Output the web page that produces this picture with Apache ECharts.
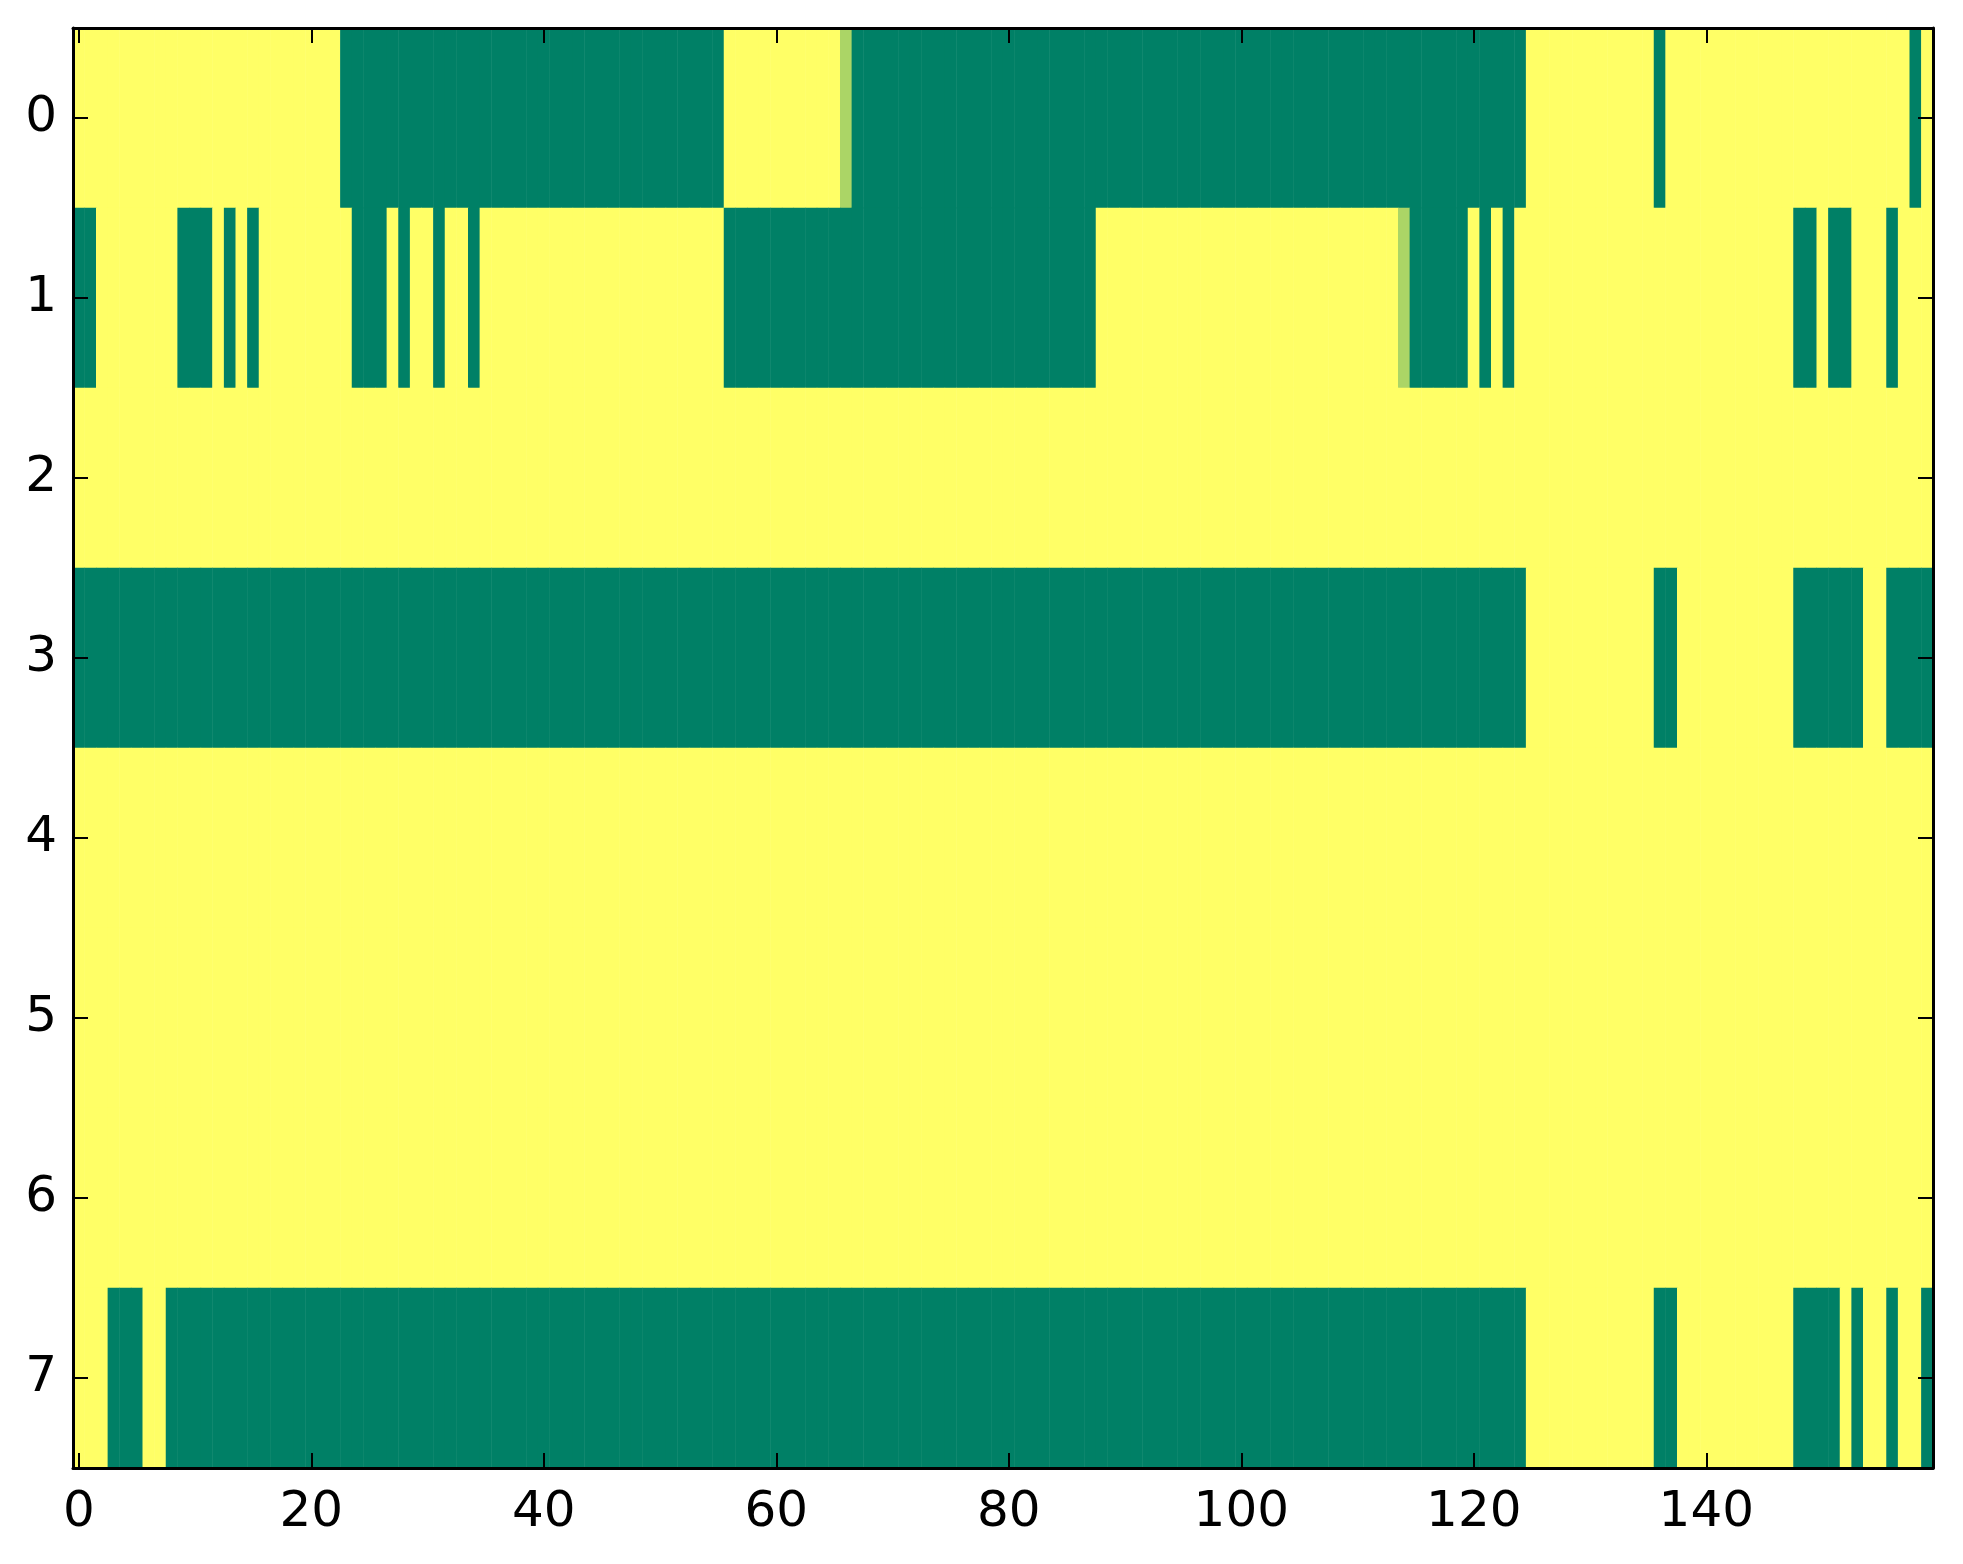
<!DOCTYPE html>
<html lang="en">
<head>
    <meta charset="UTF-8">
    <title>heatmap</title>
    <script src="https://cdn.jsdelivr.net/npm/echarts@6/dist/echarts.min.js"></script>
    <style>
        html, body { margin: 0; padding: 0; background: #fff; }
        #chart { width: 1963px; height: 1564px; }
    </style>
</head>
<body>
<div id="chart"></div>
<script>
    // 每行的值 (0 = 绿, 1 = 黄)
    var row0 = [
        1,1,1,1,1,1,1,1,1,1,1,1,1,1,1,1,1,1,1,1,
        1,1,1,0,0,0,0,0,0,0,0,0,0,0,0,0,0,0,0,0,
        0,0,0,0,0,0,0,0,0,0,0,0,0,0,0,0,1,1,1,1,
        1,1,1,1,1,1,0.67,0,0,0,0,0,0,0,0,0,0,0,0,0,
        0,0,0,0,0,0,0,0,0,0,0,0,0,0,0,0,0,0,0,0,
        0,0,0,0,0,0,0,0,0,0,0,0,0,0,0,0,0,0,0,0,
        0,0,0,0,0,1,1,1,1,1,1,1,1,1,1,1,0,1,1,1,
        1,1,1,1,1,1,1,1,1,1,1,1,1,1,1,1,1,1,0,1
    ];
    var row1 = [
        0,0,1,1,1,1,1,1,1,0,0,0,1,0,1,0,1,1,1,1,
        1,1,1,1,0,0,0,1,0,1,1,0,1,1,0,1,1,1,1,1,
        1,1,1,1,1,1,1,1,1,1,1,1,1,1,1,1,0,0,0,0,
        0,0,0,0,0,0,0,0,0,0,0,0,0,0,0,0,0,0,0,0,
        0,0,0,0,0,0,0,0,1,1,1,1,1,1,1,1,1,1,1,1,
        1,1,1,1,1,1,1,1,1,1,1,1,1,1,0.67,0,0,0,0,0,
        1,0,1,0,1,1,1,1,1,1,1,1,1,1,1,1,1,1,1,1,
        1,1,1,1,1,1,1,1,0,0,1,0,0,1,1,1,0,1,1,1
    ];
    var row2 = [
        1,1,1,1,1,1,1,1,1,1,1,1,1,1,1,1,1,1,1,1,
        1,1,1,1,1,1,1,1,1,1,1,1,1,1,1,1,1,1,1,1,
        1,1,1,1,1,1,1,1,1,1,1,1,1,1,1,1,1,1,1,1,
        1,1,1,1,1,1,1,1,1,1,1,1,1,1,1,1,1,1,1,1,
        1,1,1,1,1,1,1,1,1,1,1,1,1,1,1,1,1,1,1,1,
        1,1,1,1,1,1,1,1,1,1,1,1,1,1,1,1,1,1,1,1,
        1,1,1,1,1,1,1,1,1,1,1,1,1,1,1,1,1,1,1,1,
        1,1,1,1,1,1,1,1,1,1,1,1,1,1,1,1,1,1,1,1
    ];
    var row3 = [
        0,0,0,0,0,0,0,0,0,0,0,0,0,0,0,0,0,0,0,0,
        0,0,0,0,0,0,0,0,0,0,0,0,0,0,0,0,0,0,0,0,
        0,0,0,0,0,0,0,0,0,0,0,0,0,0,0,0,0,0,0,0,
        0,0,0,0,0,0,0,0,0,0,0,0,0,0,0,0,0,0,0,0,
        0,0,0,0,0,0,0,0,0,0,0,0,0,0,0,0,0,0,0,0,
        0,0,0,0,0,0,0,0,0,0,0,0,0,0,0,0,0,0,0,0,
        0,0,0,0,0,1,1,1,1,1,1,1,1,1,1,1,0,0,1,1,
        1,1,1,1,1,1,1,1,0,0,0,0,0,0,1,1,0,0,0,0
    ];
    var row4 = [
        1,1,1,1,1,1,1,1,1,1,1,1,1,1,1,1,1,1,1,1,
        1,1,1,1,1,1,1,1,1,1,1,1,1,1,1,1,1,1,1,1,
        1,1,1,1,1,1,1,1,1,1,1,1,1,1,1,1,1,1,1,1,
        1,1,1,1,1,1,1,1,1,1,1,1,1,1,1,1,1,1,1,1,
        1,1,1,1,1,1,1,1,1,1,1,1,1,1,1,1,1,1,1,1,
        1,1,1,1,1,1,1,1,1,1,1,1,1,1,1,1,1,1,1,1,
        1,1,1,1,1,1,1,1,1,1,1,1,1,1,1,1,1,1,1,1,
        1,1,1,1,1,1,1,1,1,1,1,1,1,1,1,1,1,1,1,1
    ];
    var row5 = [
        1,1,1,1,1,1,1,1,1,1,1,1,1,1,1,1,1,1,1,1,
        1,1,1,1,1,1,1,1,1,1,1,1,1,1,1,1,1,1,1,1,
        1,1,1,1,1,1,1,1,1,1,1,1,1,1,1,1,1,1,1,1,
        1,1,1,1,1,1,1,1,1,1,1,1,1,1,1,1,1,1,1,1,
        1,1,1,1,1,1,1,1,1,1,1,1,1,1,1,1,1,1,1,1,
        1,1,1,1,1,1,1,1,1,1,1,1,1,1,1,1,1,1,1,1,
        1,1,1,1,1,1,1,1,1,1,1,1,1,1,1,1,1,1,1,1,
        1,1,1,1,1,1,1,1,1,1,1,1,1,1,1,1,1,1,1,1
    ];
    var row6 = [
        1,1,1,1,1,1,1,1,1,1,1,1,1,1,1,1,1,1,1,1,
        1,1,1,1,1,1,1,1,1,1,1,1,1,1,1,1,1,1,1,1,
        1,1,1,1,1,1,1,1,1,1,1,1,1,1,1,1,1,1,1,1,
        1,1,1,1,1,1,1,1,1,1,1,1,1,1,1,1,1,1,1,1,
        1,1,1,1,1,1,1,1,1,1,1,1,1,1,1,1,1,1,1,1,
        1,1,1,1,1,1,1,1,1,1,1,1,1,1,1,1,1,1,1,1,
        1,1,1,1,1,1,1,1,1,1,1,1,1,1,1,1,1,1,1,1,
        1,1,1,1,1,1,1,1,1,1,1,1,1,1,1,1,1,1,1,1
    ];
    var row7 = [
        1,1,1,0,0,0,1,1,0,0,0,0,0,0,0,0,0,0,0,0,
        0,0,0,0,0,0,0,0,0,0,0,0,0,0,0,0,0,0,0,0,
        0,0,0,0,0,0,0,0,0,0,0,0,0,0,0,0,0,0,0,0,
        0,0,0,0,0,0,0,0,0,0,0,0,0,0,0,0,0,0,0,0,
        0,0,0,0,0,0,0,0,0,0,0,0,0,0,0,0,0,0,0,0,
        0,0,0,0,0,0,0,0,0,0,0,0,0,0,0,0,0,0,0,0,
        0,0,0,0,0,1,1,1,1,1,1,1,1,1,1,1,0,0,1,1,
        1,1,1,1,1,1,1,1,0,0,0,0,1,0,1,1,0,1,1,0
    ];
    var rows = [row0, row1, row2, row3, row4, row5, row6, row7];

    // 刻度
    var xTicks = [0, 20, 40, 60, 80, 100, 120, 140];
    var yLabels = ['0', '1', '2', '3', '4', '5', '6', '7'];
    var nCols = row0.length;

    var xCats = [];
    for (var c = 0; c < nCols; c++) {
        xCats.push(String(c));
    }
    var cells = [];
    for (var r = 0; r < rows.length; r++) {
        for (var k = 0; k < nCols; k++) {
            cells.push([k, r, rows[r][k]]);
        }
    }

    var isXTick = function (i) { return xTicks.indexOf(i) >= 0; };
    var font = 'DejaVu Sans';
    var lineCol = '#000';

    var chart = echarts.init(document.getElementById('chart'));

    var option = {
        animation: false,
        backgroundColor: '#fff',
        grid: { left: 73, right: 30, top: 28, bottom: 96, containLabel: false },
        visualMap: {
            show: false,
            type: 'continuous',
            min: 0,
            max: 1,
            dimension: 2,
            seriesIndex: 0,
            inRange: { color: ['#008066', '#ffff66'] }
        },
        xAxis: [
            {
                type: 'category',
                data: xCats,
                position: 'bottom',
                z: 10,
                axisLine: { show: true, lineStyle: { color: lineCol, width: 3 } },
                axisTick: { show: true, inside: true, length: 15, interval: isXTick, alignWithLabel: true,
                    lineStyle: { color: lineCol, width: 2 } },
                axisLabel: { show: true, interval: isXTick, margin: 20, fontSize: 50, fontFamily: font, color: '#000' },
                splitLine: { show: false }
            },
            {
                type: 'category',
                data: xCats,
                position: 'top',
                z: 10,
                axisLine: { show: true, lineStyle: { color: lineCol, width: 3 } },
                axisTick: { show: true, inside: true, length: 15, interval: isXTick, alignWithLabel: true,
                    lineStyle: { color: lineCol, width: 2 } },
                axisLabel: { show: false },
                splitLine: { show: false }
            }
        ],
        yAxis: [
            {
                type: 'category',
                data: yLabels,
                inverse: true,
                position: 'left',
                z: 10,
                axisLine: { show: true, lineStyle: { color: lineCol, width: 3 } },
                axisTick: { show: true, inside: true, length: 15, alignWithLabel: true,
                    lineStyle: { color: lineCol, width: 2 } },
                axisLabel: { show: true, margin: 16, fontSize: 50, fontFamily: font, color: '#000' },
                splitLine: { show: false }
            },
            {
                type: 'category',
                data: yLabels,
                inverse: true,
                position: 'right',
                z: 10,
                axisLine: { show: true, lineStyle: { color: lineCol, width: 3 } },
                axisTick: { show: true, inside: true, length: 15, alignWithLabel: true,
                    lineStyle: { color: lineCol, width: 2 } },
                axisLabel: { show: false },
                splitLine: { show: false }
            }
        ],
        series: [
            {
                type: 'heatmap',
                xAxisIndex: 0,
                yAxisIndex: 0,
                data: cells,
                z: 1,
                emphasis: { disabled: true }
            }
        ]
    };

    chart.setOption(option);
</script>
</body>
</html>
